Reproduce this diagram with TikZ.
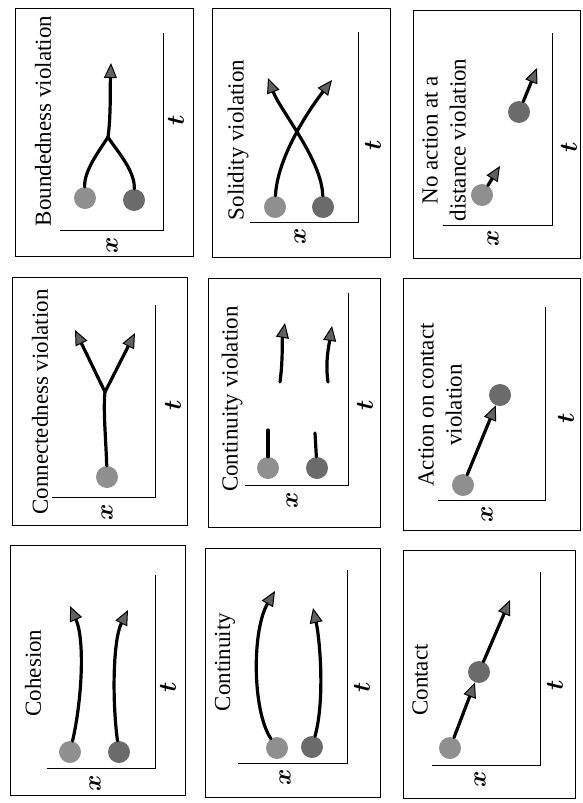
\documentclass[tikz,border=0pt]{standalone}
\usepackage{amsmath, amssymb}
\usepackage{fontspec}
\setmainfont{Liberation Serif}
\usepackage{tikz}
\usetikzlibrary{arrows.meta}
\definecolor{ballA}{gray}{0.56}
\definecolor{ballB}{gray}{0.42}
\definecolor{tipgray}{gray}{0.38}

\begin{document}
\begin{tikzpicture}[x=1pt,y=-1pt,
		panel/.style={draw,line width=0.9pt},
		axis/.style={line width=1pt},
		lball/.style={circle,fill=ballA,minimum size=22pt,inner sep=0pt},
		dball/.style={circle,fill=ballB,minimum size=22pt,inner sep=0pt},
		traj/.style={line width=3.2pt,line cap=round},
		trajarr/.style={traj,-{Triangle[length=15pt,width=13pt,fill=tipgray,line width=1pt]}},
		title/.style={rotate=90,font=\fontsize{23}{28}\selectfont,align=center},
		axlabel/.style={rotate=90,inner sep=0pt,font=\fontsize{27}{28}\selectfont\boldmath}]
		\useasboundingbox (0,0) rectangle (582,803);
		% top row
		\draw[panel] (15,8) rectangle (193,256);
		\draw[axis] (60,230) -- (163,230) -- (163,33);
		\node[title] (b1title) at (43,121) {Boundedness violation};
		\node[axlabel] (b1x) at (112,245) {$x$};
		\node[axlabel] (b1t) at (176,120) {$t$};
		\node[lball] (b1a) at (85,198) {};
		\node[dball] (b1b) at (134,200) {};
		\coordinate (b1m) at (108,137);
		\coordinate (b1e) at (111,63);
		\draw[traj] (b1a) .. controls (84,170) and (100,150) .. (b1m);
		\draw[traj] (b1b) .. controls (135,170) and (116,150) .. (b1m);
		\draw[trajarr] (b1m) .. controls (111,115) and (110,90) .. (b1e);

		\draw[panel] (212,8) rectangle (390,257);
		\draw[axis] (250,222) -- (358,222) -- (358,32);
		\node[title] (s2title) at (238,140) {Solidity violation};
		\node[axlabel] (s2x) at (300,236) {$x$};
		\node[axlabel] (s2t) at (373,145) {$t$};
		\node[lball] (s2a) at (275,207) {};
		\node[dball] (s2b) at (323,207) {};
		\coordinate (s2e1) at (332,80);
		\coordinate (s2e2) at (268,78);
		\draw[trajarr] (s2a) .. controls (277,160) and (305,115) .. (s2e1);
		\draw[trajarr] (s2b) .. controls (322,160) and (280,110) .. (s2e2);

		\draw[panel] (413,10) rectangle (580,258);
		\draw[axis] (443,225) -- (552,225) -- (552,33);
		\node[title] (n3title) at (444,140) {No action at a\\distance violation};
		\node[axlabel] (n3x) at (493,238) {$x$};
		\node[axlabel] (n3t) at (569,147) {$t$};
		\node[lball] (n3a) at (482,195) {};
		\node[dball] (n3b) at (519,112) {};
		\coordinate (n3e1) at (500,166);
		\coordinate (n3e2) at (537,68);
		\draw[trajarr] (n3a) -- (n3e1);
		\draw[trajarr] (n3b) -- (n3e2);

		% middle row
		\draw[panel] (12,277) rectangle (187,525);
		\draw[axis] (52,497) -- (155,497) -- (155,305);
		\node[title] (c4title) at (40,402) {Connectedness violation};
		\node[axlabel] (c4x) at (107,512) {$x$};
		\node[axlabel] (c4t) at (173,405) {$t$};
		\node[lball] (c4a) at (107,477) {};
		\coordinate (c4m) at (105,392);
		\coordinate (c4e1) at (75,330);
		\coordinate (c4e2) at (135,333);
		\draw[traj] (c4a) .. controls (106,440) and (103,410) .. (c4m);
		\draw[trajarr] (c4m) -- (c4e1);
		\draw[trajarr] (c4m) -- (c4e2);

		\draw[panel] (208,278) rectangle (380,527);
		\draw[axis] (245,485) -- (348,485) -- (348,293);
		\node[title] (v5title) at (232,399) {Continuity violation};
		\node[axlabel] (v5x) at (292,500) {$x$};
		\node[axlabel] (v5t) at (365,405) {$t$};
		\node[lball] (v5a) at (268,468) {};
		\node[dball] (v5b) at (317,468) {};
		\coordinate (v5s1) at (268,430);
		\coordinate (v5s2) at (315,433);
		\coordinate (v5p1) at (280,382);
		\coordinate (v5p2) at (328,382);
		\coordinate (v5e1) at (285,323);
		\coordinate (v5e2) at (332,326);
		\draw[traj] (v5a) -- (v5s1);
		\draw[traj] (v5b) -- (v5s2);
		\draw[trajarr] (v5p1) .. controls (283,360) and (282,340) .. (v5e1);
		\draw[trajarr] (v5p2) .. controls (325,362) and (329,345) .. (v5e2);

		\draw[panel] (403,278) rectangle (580,530);
		\draw[axis] (438,500) -- (545,500) -- (545,307);
		\node[title] (a6title) at (440,405) {Action on contact\\violation};
		\node[axlabel] (a6x) at (487,514) {$x$};
		\node[axlabel] (a6t) at (566,418) {$t$};
		\node[lball] (a6a) at (463,485) {};
		\node[dball] (a6b) at (500,395) {};
		\draw[trajarr] (a6a) -- (a6b);

		% bottom row
		\draw[panel] (10,545) rectangle (185,795);
		\draw[axis] (47,768) -- (155,768) -- (155,575);
		\node[title] (h7title) at (33,673) {Cohesion};
		\node[axlabel] (h7x) at (95,783) {$x$};
		\node[axlabel] (h7t) at (168,687) {$t$};
		\node[lball] (h7a) at (70,752) {};
		\node[dball] (h7b) at (119,752) {};
		\coordinate (h7e1) at (70,606);
		\coordinate (h7e2) at (128,610);
		\draw[trajarr] (h7a) .. controls (82,700) and (85,640) .. (h7e1);
		\draw[trajarr] (h7b) .. controls (112,700) and (113,640) .. (h7e2);

		\draw[panel] (205,548) rectangle (380,797);
		\draw[axis] (238,763) -- (347,763) -- (347,570);
		\node[title] (u8title) at (225,662) {Continuity};
		\node[axlabel] (u8x) at (285,777) {$x$};
		\node[axlabel] (u8t) at (362,687) {$t$};
		\node[lball] (u8a) at (277,748) {};
		\node[dball] (u8b) at (312,747) {};
		\coordinate (u8e1) at (275,591);
		\coordinate (u8e2) at (313,608);
		\draw[trajarr] (u8a) .. controls (252,710) and (252,630) .. (u8e1);
		\draw[trajarr] (u8b) .. controls (325,700) and (320,640) .. (u8e2);

		\draw[panel] (403,550) rectangle (575,798);
		\draw[axis] (432,765) -- (540,765) -- (540,572);
		\node[title] (k9title) at (420,680) {Contact};
		\node[axlabel] (k9x) at (480,779) {$x$};
		\node[axlabel] (k9t) at (555,685) {$t$};
		\node[lball] (k9a) at (450,748) {};
		\node[dball] (k9b) at (479,672) {};
		\coordinate (k9e) at (510,600);
		\draw[trajarr] (k9a) -- (k9b);
		\draw[trajarr] (k9b) -- (k9e);
	\end{tikzpicture}
\end{document}
